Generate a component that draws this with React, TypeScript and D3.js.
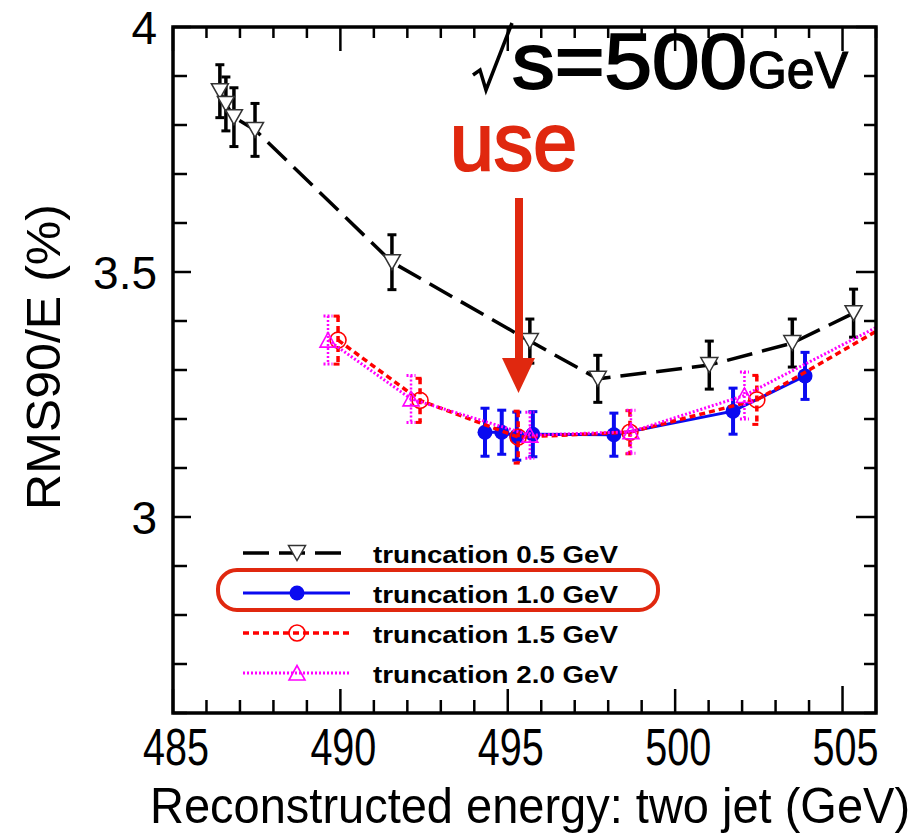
import React from "react";
import * as d3 from "d3";

// Reconstructed two-jet energy (GeV), RMS90/E (%) and its error for each truncation
const energy05 = [486.40, 486.58, 486.82, 487.45, 491.54, 495.66, 497.69, 501.02, 503.50, 505.33];
const rms05 = [3.869, 3.843, 3.816, 3.790, 3.520, 3.359, 3.282, 3.310, 3.355, 3.416];
const err05 = [0.054, 0.055, 0.060, 0.054, 0.056, 0.045, 0.048, 0.049, 0.049, 0.049];

const energy10 = [494.32, 494.82, 495.27, 495.75, 498.17, 501.73, 503.88];
const rms10 = [3.173, 3.173, 3.165, 3.169, 3.168, 3.216, 3.288];
const err10 = [0.049, 0.045, 0.049, 0.046, 0.044, 0.047, 0.048];

const energy15 = [489.93, 492.38, 495.31, 498.65, 502.44, 507.0];
const rms15 = [3.361, 3.238, 3.163, 3.173, 3.239, 3.418];
const err15 = [0.049, 0.045, 0.053, 0.044, 0.050, 0.050];

const energy20 = [489.63, 492.11, 495.66, 498.68, 502.07, 507.0];
const rms20 = [3.361, 3.241, 3.167, 3.174, 3.248, 3.422];
const err20 = [0.049, 0.048, 0.047, 0.044, 0.048, 0.048];

const legendLabels = ["truncation 0.5 GeV", "truncation 1.0 GeV", "truncation 1.5 GeV", "truncation 2.0 GeV"];
const xTickValues = [485, 490, 495, 500, 505];
const yTickValues = [3, 3.5, 4];
const xTitle = "Reconstructed energy: two jet (GeV)";
const yTitle = "RMS90/E (%)";

const W = 921;
const H = 838;
const frame = { left: 173, right: 876, top: 27, bottom: 713 };
const FONT = "'Liberation Sans', Arial, Helvetica, sans-serif";
const ACCENT = "#e0280f";

const x = d3.scaleLinear().domain([485, 506]).range([frame.left, frame.right]);
const y = d3.scaleLinear().domain([2.6, 4.0]).range([frame.bottom, frame.top]);

type Marker = "tridown" | "dot" | "circle" | "triup";
type Series = {
  xs: number[]; ys: number[]; es: number[];
  color: string; width: number; dash: string | null;
  barWidth: number; barDash: string | null;
  marker: Marker; label: string;
};

const series: Series[] = [
  { xs: energy05, ys: rms05, es: err05, color: "#000000", width: 3.5, dash: "26 10", barWidth: 3.5, barDash: null, marker: "tridown", label: legendLabels[0] },
  { xs: energy10, ys: rms10, es: err10, color: "#0a0af0", width: 3, dash: null, barWidth: 4, barDash: null, marker: "dot", label: legendLabels[1] },
  { xs: energy15, ys: rms15, es: err15, color: "#ff0000", width: 3.5, dash: "6 4", barWidth: 3.5, barDash: "6 4", marker: "circle", label: legendLabels[2] },
  { xs: energy20, ys: rms20, es: err20, color: "#ff00ff", width: 3, dash: "2 2", barWidth: 2.5, barDash: "2 2", marker: "triup", label: legendLabels[3] },
];

function drawMarker(m: Marker, cx: number, cy: number, color: string, key?: string) {
  if (m === "tridown") {
    return <polygon key={key} points={`${cx - 8.5},${cy - 7.5} ${cx + 8.5},${cy - 7.5} ${cx},${cy + 7.5}`} fill="#fff" stroke="#333" strokeWidth={1.5} />;
  }
  if (m === "triup") {
    return <polygon key={key} points={`${cx - 8},${cy + 7} ${cx + 8},${cy + 7} ${cx},${cy - 7.5}`} fill="none" stroke={color} strokeWidth={1.6} />;
  }
  if (m === "dot") {
    return <circle key={key} cx={cx} cy={cy} r={7.5} fill={color} />;
  }
  return <circle key={key} cx={cx} cy={cy} r={8} fill="none" stroke={color} strokeWidth={1.6} />;
}

function App() {
  const line = d3.line<[number, number]>().x((d) => x(d[0])).y((d) => y(d[1]));

  const minorX = d3.range(485, 506.01, 1);
  const minorY = d3.range(2.6, 4.001, 0.1).map((v) => Math.round(v * 10) / 10);
  const isMajorX = (v: number) => v % 5 === 0;
  const isMajorY = (v: number) => Math.abs(v * 2 - Math.round(v * 2)) < 1e-6;

  const legendRows = [553, 593, 633, 673];
  const legendX0 = 243, legendX1 = 350, legendMarkX = 297;

  return (
    <svg width={W} height={H} viewBox={`0 0 ${W} ${H}`} style={{ position: "absolute", left: 0, top: 0, background: "#fff" }} fontFamily={FONT}>
      <rect x={0} y={0} width={W} height={H} fill="#fff" />
      <defs>
        <clipPath id="plotArea">
          <rect x={frame.left} y={frame.top} width={frame.right - frame.left} height={frame.bottom - frame.top} />
        </clipPath>
      </defs>

      {/* axis ticks */}
      <g stroke="#000" strokeWidth={2.5}>
        {minorX.map((v) => {
          const px = x(v);
          const bl = isMajorX(v) ? (v === 505 ? 27 : 24) : 13;
          const tl = isMajorX(v) ? 24 : 11;
          return (
            <g key={`xt${v}`}>
              <line x1={px} x2={px} y1={frame.bottom} y2={frame.bottom - bl} />
              <line x1={px} x2={px} y1={frame.top} y2={frame.top + tl} />
            </g>
          );
        })}
        {minorY.map((v) => {
          const py = y(v);
          const ll = isMajorY(v) ? 18 : 14;
          const rl = isMajorY(v) ? 20 : 12;
          return (
            <g key={`yt${v}`}>
              <line x1={frame.left} x2={frame.left + ll} y1={py} y2={py} />
              <line x1={frame.right} x2={frame.right - rl} y1={py} y2={py} />
            </g>
          );
        })}
      </g>

      {/* tick labels */}
      <g fontSize={52} fill="#000">
        {xTickValues.map((v) => (
          <text key={`xl${v}`} x={x(v) + 3 - 33} y={765} textLength={66} lengthAdjust="spacingAndGlyphs">{String(v)}</text>
        ))}
      </g>
      <g fontSize={46} fill="#000" textAnchor="end">
        {yTickValues.map((v) => (
          <text key={`yl${v}`} x={157} y={y(v) + 16.5}>{String(v)}</text>
        ))}
      </g>

      {/* axis titles (x title is narrowed horizontally) */}
      <text transform="translate(150,823) scale(0.94,1)" x={0} y={0} fontSize={50} fill="#000">{xTitle}</text>
      <text transform="translate(60,510) rotate(-90)" x={0} y={0} fontSize={48} textLength={306} lengthAdjust="spacingAndGlyphs" fill="#000">{yTitle}</text>

      {/* series */}
      <g clipPath="url(#plotArea)">
        {series.map((s, si) => {
          const pts = s.xs.map((v, i) => [v, s.ys[i]] as [number, number]);
          return (
            <g key={`s${si}`}>
              <path d={line(pts) ?? ""} fill="none" stroke={s.color} strokeWidth={s.width} strokeDasharray={s.dash ?? undefined} />
              {pts.map((p, i) => {
                const cx = x(p[0]);
                const y1 = y(p[1] + s.es[i]);
                const y2 = y(p[1] - s.es[i]);
                return (
                  <g key={`e${i}`} stroke={s.color} strokeWidth={s.barWidth} strokeDasharray={s.barDash ?? undefined}>
                    <line x1={cx} x2={cx} y1={y1} y2={y2} />
                    <line x1={cx - 4.5} x2={cx + 4.5} y1={y1} y2={y1} strokeDasharray={undefined} strokeWidth={3} />
                    <line x1={cx - 4.5} x2={cx + 4.5} y1={y2} y2={y2} strokeDasharray={undefined} strokeWidth={3} />
                  </g>
                );
              })}
              {pts.map((p, i) => drawMarker(s.marker, x(p[0]), y(p[1]), s.color, `m${i}`))}
            </g>
          );
        })}
      </g>

      {/* frame */}
      <rect x={frame.left} y={frame.top} width={frame.right - frame.left} height={frame.bottom - frame.top} fill="none" stroke="#000" strokeWidth={3.5} />

      {/* legend */}
      {series.map((s, i) => (
        <g key={`lg${i}`}>
          <line x1={legendX0} x2={legendX1} y1={legendRows[i]} y2={legendRows[i]} stroke={s.color} strokeWidth={s.width} strokeDasharray={s.dash ?? undefined} />
          {drawMarker(s.marker, legendMarkX, legendRows[i], s.color)}
          <text x={373} y={legendRows[i] + 10} fontSize={23} fontWeight="bold" textLength={245} lengthAdjust="spacingAndGlyphs" fill="#000">{s.label}</text>
        </g>
      ))}
      <rect x={218} y={570} width={440} height={40} rx={19} ry={19} fill="none" stroke={ACCENT} strokeWidth={4} />

      {/* energy annotation */}
      <path d="M473,75 L480,70 L486,90 L512,23" fill="none" stroke="#000" strokeWidth={3.5} strokeLinejoin="miter" />
      <text x={512} y={88} fontSize={78} textLength={235} lengthAdjust="spacingAndGlyphs" fill="#000" stroke="#000" strokeWidth={2}>s=500</text>
      <text x={748} y={88} fontSize={51} textLength={100} lengthAdjust="spacingAndGlyphs" fill="#000" stroke="#000" strokeWidth={1.2}>GeV</text>

      {/* highlighted choice */}
      <text x={450} y={170} fontSize={82} textLength={127} lengthAdjust="spacingAndGlyphs" fill={ACCENT} stroke={ACCENT} strokeWidth={2.2}>use</text>
      <rect x={515} y={198} width={8} height={164} fill={ACCENT} />
      <polygon points="502,358 535,358 518.5,393" fill={ACCENT} />
    </svg>
  );
}

export default App;
